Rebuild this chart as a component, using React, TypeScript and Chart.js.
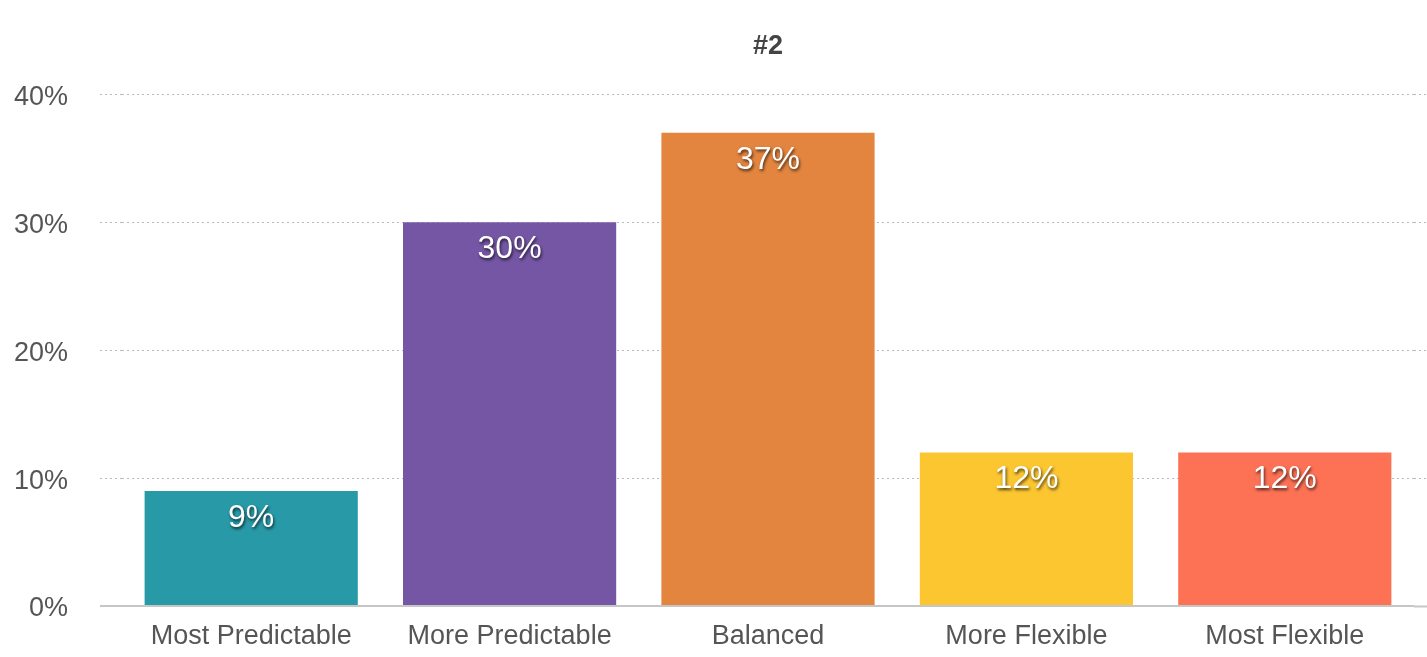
import React, { useEffect, useRef } from "react";
import { Chart, registerables } from "chart.js";

Chart.register(...registerables);

const categories = ["Most Predictable", "More Predictable", "Balanced", "More Flexible", "Most Flexible"];
const values = [9, 30, 37, 12, 12];
const valueLabels = ["9%", "30%", "37%", "12%", "12%"];
const barColors = ["#2899a7", "#7556a5", "#e3853f", "#fcc631", "#fd7155"];
const yTicks = [0, 10, 20, 30, 40];
const chartTitle = "#2";

const FONT = "'Liberation Sans', Arial, Helvetica, sans-serif";

const valueLabelPlugin = {
  id: "valueLabels",
  afterDraw(chart: any) {
    const ctx = chart.ctx;
    const meta = chart.getDatasetMeta(0);
    ctx.save();
    ctx.font = `32px ${FONT}`;
    ctx.fillStyle = "#ffffff";
    ctx.textAlign = "center";
    ctx.textBaseline = "middle";
    ctx.shadowColor = "rgba(0,0,0,0.7)";
    ctx.shadowBlur = 3;
    ctx.shadowOffsetX = 1;
    ctx.shadowOffsetY = 2;
    meta.data.forEach((el: any, i: number) => {
      ctx.fillText(valueLabels[i], el.x, el.y + 27);
    });
    ctx.restore();
  },
};

export default function App() {
  const ref = useRef<HTMLCanvasElement | null>(null);

  useEffect(() => {
    document.body.style.margin = "0";
    if (!ref.current) return;
    const isZero = (c: any) => c.tick && c.tick.value === 0;
    const gridColor = (c: any) => (isZero(c) ? "#c6c6c6" : "rgba(0,0,0,0.27)");
    const gridDash = (c: any) => (isZero(c) ? [] : [2, 3]);
    const gridWidth = (c: any) => (isZero(c) ? 2 : 1);
    const chart = new Chart(ref.current, {
      type: "bar",
      data: {
        labels: categories,
        datasets: [
          {
            data: values,
            backgroundColor: barColors,
            borderWidth: 0,
            categoryPercentage: 1,
            barPercentage: 0.825,
          },
        ],
      },
      options: {
        animation: false,
        responsive: true,
        maintainAspectRatio: false,
        layout: { padding: { left: 12, right: 0, top: 0, bottom: 0 } },
        plugins: {
          legend: { display: false },
          tooltip: { enabled: false },
          title: {
            display: true,
            text: chartTitle,
            fullSize: false,
            color: "#444444",
            font: { family: FONT, size: 27, weight: "bold" },
            padding: { top: 30, bottom: 32 },
          },
        },
        scales: {
          x: {
            grid: { display: false },
            border: { display: false },
            ticks: {
              color: "#555555",
              font: { family: FONT, size: 27 },
              padding: 6,
            },
            afterFit: (axis: any) => {
              axis.height = 51;
            },
          },
          y: {
            min: 0,
            max: 40,
            z: 1,
            afterBuildTicks: (axis: any) => {
              axis.ticks = yTicks.map((v) => ({ value: v }));
            },
            afterFit: (axis: any) => {
              axis.width = 110;
            },
            border: { display: false, dash: gridDash },
            grid: {
              color: gridColor,
              lineWidth: gridWidth,
              tickColor: gridColor,
              tickBorderDash: gridDash,
              tickWidth: gridWidth,
              tickLength: 22,
            },
            ticks: {
              color: "#555555",
              font: { family: FONT, size: 27 },
              padding: 32,
              labelOffset: 3,
              callback: (v: any) => `${v}%`,
            },
          },
          y2: {
            position: "right",
            min: 0,
            max: 40,
            z: 1,
            afterBuildTicks: (axis: any) => {
              axis.ticks = yTicks.map((v) => ({ value: v }));
            },
            afterFit: (axis: any) => {
              axis.width = 13;
            },
            border: { display: false, dash: gridDash },
            grid: {
              drawOnChartArea: false,
              tickColor: gridColor,
              tickBorderDash: gridDash,
              tickWidth: gridWidth,
              tickLength: 13,
            },
            ticks: { display: false },
          },
        },
      },
      plugins: [valueLabelPlugin],
    });
    return () => chart.destroy();
  }, []);

  return (
    <div style={{ width: 1427, height: 657, position: "relative" }}>
      <canvas ref={ref} />
    </div>
  );
}
